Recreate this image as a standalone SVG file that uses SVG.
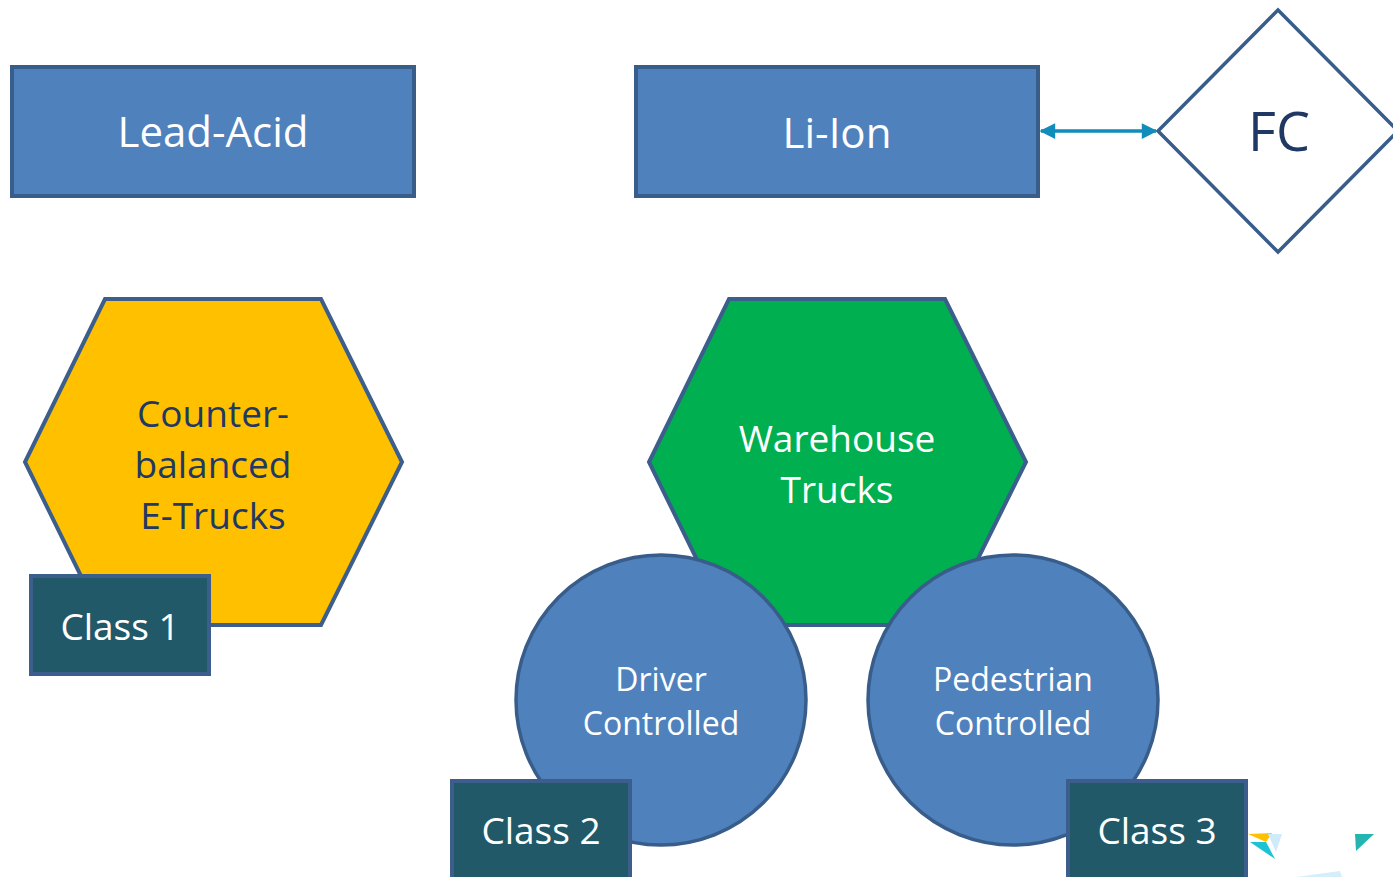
<svg xmlns="http://www.w3.org/2000/svg" width="1393" height="877" viewBox="0 0 1393 877">
<defs>
<style>
.box{fill:#4F81BD;stroke:#385D8A;stroke-width:4}
.cls{fill:#215968;stroke:#3B5E8C;stroke-width:4}
.hex{stroke:#3B5E8C;stroke-width:4}
.t{font-family:"Open Sans","Noto Sans",sans-serif;text-anchor:middle;dominant-baseline:central}
.w{fill:#FFFFFF}
.n{fill:#1F3864}
</style>
<marker id="ah" viewBox="0 0 10 10" refX="9" refY="5" markerWidth="5" markerHeight="4.5" orient="auto-start-reverse">
<path d="M0,0 L10,5 L0,10 z" fill="#118DBB"/>
</marker>
</defs>
<g id="lead-acid"><rect class="box" x="12" y="67" width="402" height="129"/><text class="t w" x="213" y="130" font-size="42">Lead-Acid</text></g>
<g id="li-ion"><rect class="box" x="636" y="67" width="402" height="129"/><text class="t w" x="837" y="131" font-size="42">Li-Ion</text></g>
<g id="fc"><polygon points="1278,10 1398,131 1278,252 1158,131" fill="#FFFFFF" stroke="#385D8A" stroke-width="3.5"/><text class="t n" x="1279" y="130" font-size="54">FC</text></g>
<g id="connectors"><line x1="1041" y1="131" x2="1156" y2="131" stroke="#118DBB" stroke-width="3.5" marker-start="url(#ah)" marker-end="url(#ah)"/></g>
<g id="counterbalanced"><polygon class="hex" points="105,299 321,299 402,462 321,625 105,625 25,462" fill="#FFC000"/>
<text class="t n" x="213" y="412" font-size="37">Counter-</text><text class="t n" x="213" y="463" font-size="37">balanced</text><text class="t n" x="213" y="514" font-size="37">E-Trucks</text></g>
<g id="warehouse"><polygon class="hex" points="729,299 945,299 1026,462 945,625 729,625 649,462" fill="#00B050"/>
<text class="t w" x="837" y="437" font-size="37">Warehouse</text><text class="t w" x="837" y="488" font-size="37">Trucks</text></g>
<g id="driver"><circle cx="661" cy="700" r="145" fill="#4F81BD" stroke="#385D8A" stroke-width="3.5"/>
<text class="t w" x="661" y="678" font-size="32">Driver</text><text class="t w" x="661" y="722" font-size="32">Controlled</text></g>
<g id="pedestrian"><circle cx="1013" cy="700" r="145" fill="#4F81BD" stroke="#385D8A" stroke-width="3.5"/>
<text class="t w" x="1013" y="678" font-size="32">Pedestrian</text><text class="t w" x="1013" y="722" font-size="32">Controlled</text></g>
<g id="class1"><rect class="cls" x="31" y="576" width="178" height="98"/><text class="t w" x="120" y="625" font-size="37">Class 1</text></g>
<g id="class2"><rect class="cls" x="452" y="781" width="178" height="98"/><text class="t w" x="541" y="829" font-size="37">Class 2</text></g>
<g id="class3"><rect class="cls" x="1068" y="781" width="178" height="98"/><text class="t w" x="1157" y="829" font-size="37">Class 3</text></g>
<g id="logo-fragment">
<polygon points="1248,834 1272,833 1266,842" fill="#FFC000"/>
<polygon points="1250,842 1266,842 1275,859" fill="#1BC3D3"/>
<polygon points="1268,834 1282,834 1276,852" fill="#CFEAFB"/>
<polygon points="1355,834 1374,834 1356,851" fill="#25B5B0"/>
<polygon points="1296,877 1340,871 1342,877" fill="#D5EEFC"/>
</g>
</svg>
